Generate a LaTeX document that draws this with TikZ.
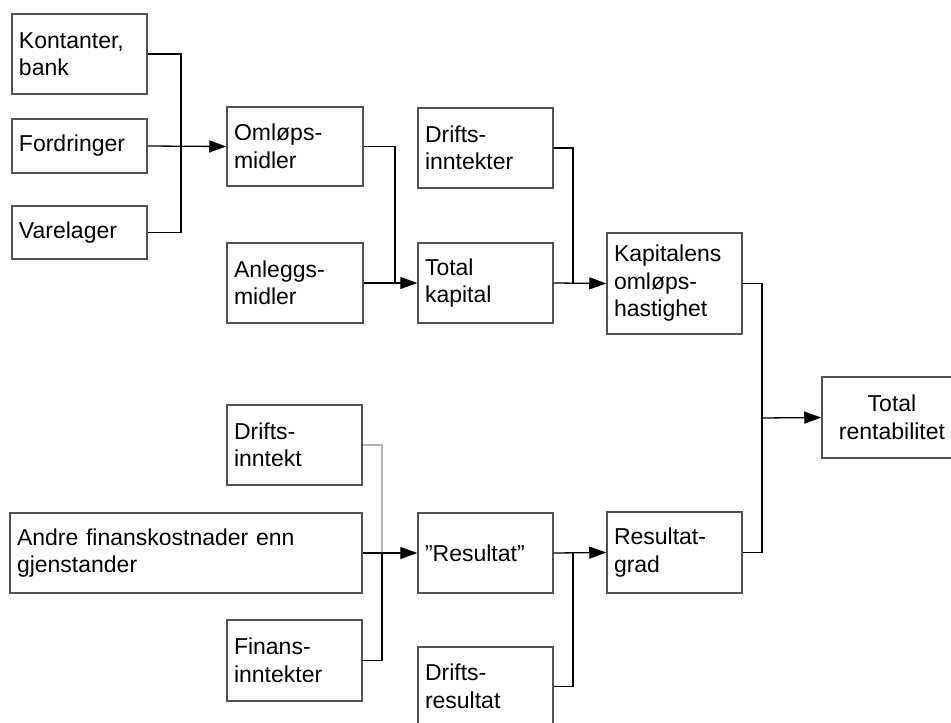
\documentclass[tikz,border=0pt]{standalone}
\usepackage{fontspec}
\setmainfont{Liberation Sans}
\usetikzlibrary{arrows.meta}
\begin{document}
\begin{tikzpicture}[x=1pt,y=-1pt,
  box/.style={draw=black!68, line width=1.5pt, rectangle, inner xsep=7pt, inner ysep=0pt,
    align=left, font=\fontsize{23}{27.5}\selectfont},
  conn/.style={draw=black, line width=1.3pt},
  arr/.style={conn, -{Triangle[length=17pt,width=12pt]}},
  faint/.style={draw=black!30, line width=1.3pt}]
\useasboundingbox (0,0) rectangle (951,723);
\clip (0,0) rectangle (951,723);
\newcommand{\bx}[7]{\node[box,#7,text width={#4-#2-14pt},minimum height={#5-#3}] (#1) at ({(#2+#4)/2},{(#3+#5)/2}) {#6};}
\bx{kont}{12}{14}{147}{94}{Kontanter,\\bank}{}
\bx{ford}{12}{119}{147}{173}{Fordringer}{}
\bx{vare}{12}{206}{147}{259}{Varelager}{}
\bx{omlp}{227}{107}{363}{186}{Omløps-\\midler}{}
\bx{anl}{227}{243}{363}{323}{Anleggs-\\midler}{}
\bx{dinnt}{418}{108}{553}{188}{Drifts-\\inntekter}{}
\bx{totk}{418}{243}{553}{323}{Total\\kapital}{}
\bx{kap}{607}{233}{742}{334}{Kapitalens\\omløps-\\hastighet}{}
\bx{trent}{822}{377}{962}{458}{Total\\rentabilitet}{align=center}
\bx{dinn}{227}{405}{362}{485}{Drifts-\\inntekt}{}
\bx{andre}{10}{513}{362}{593}{Andre finanskostnader enn\\gjenstander}{}
\bx{fin}{227}{620}{362}{701}{Finans-\\inntekter}{}
\bx{res}{418}{513}{553}{593}{”Resultat”}{}
\bx{rgrad}{607}{512}{742}{593}{Resultat-\\grad}{}
\bx{dres}{418}{647}{553}{726}{Drifts-\\resultat}{}
\coordinate (j1) at (181,146);
\coordinate (j2) at (395,283);
\coordinate (j3) at (573,283);
\coordinate (j4) at (762,418);
\coordinate (j5) at (382,553);
\coordinate (j6) at (573,553);
% top-left group
\draw[conn] (kont.east) -| (j1) |- (vare.east);
\draw[arr] (ford.east) -- (omlp.west);
\draw[conn] (omlp.east) -| (j2);
\draw[arr] (anl.east) -- (totk.west);
\draw[conn] (dinnt.east) -| (j3);
\draw[arr] (totk.east) -- (kap.west);
\draw[conn] (kap.east) -| (j4) |- (rgrad.east);
\draw[arr] (j4) -- (trent.west);
% bottom group
\draw[faint] (dinn.east) -| (j5);
\draw[conn] (fin.east) -| (j5);
\draw[arr] (andre.east) -- (res.west);
\draw[arr] (res.east) -- (rgrad.west);
\draw[conn] (dres.east) -| (j6);
\end{tikzpicture}
\end{document}
